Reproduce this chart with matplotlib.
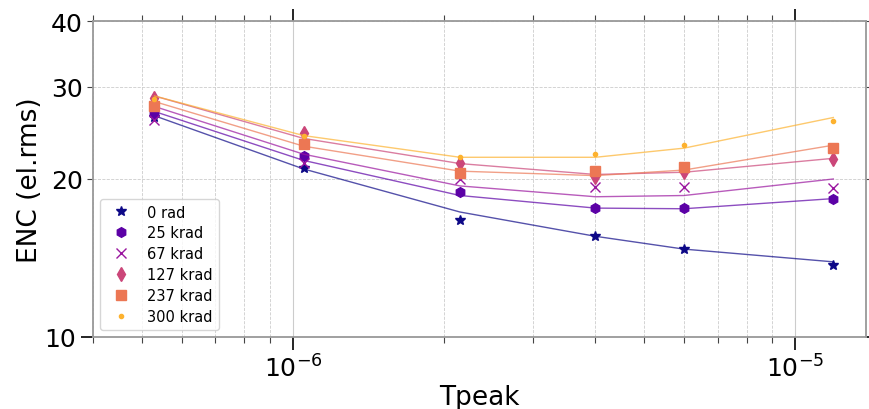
import numpy as np
import matplotlib
matplotlib.use("Agg")
import matplotlib.pyplot as plt
from matplotlib.ticker import ScalarFormatter, FuncFormatter, NullFormatter

# peaking times (s)
tpeak = [5.3e-7, 1.05e-6, 2.15e-6, 4.0e-6, 6.0e-6, 1.19e-5]

doses = ["0 rad", "25 krad", "67 krad", "127 krad", "237 krad", "300 krad"]
markers = ["*", "h", "x", "d", "s", "."]

# measured ENC (el.rms)
enc_0 = [26.2, 21.0, 16.7, 15.6, 14.7, 13.7]
enc_25 = [26.6, 22.1, 18.85, 17.6, 17.6, 18.3]
enc_67 = [25.9, 21.5, 20.0, 19.3, 19.3, 19.2]
enc_127 = [28.6, 24.5, 21.5, 20.15, 20.6, 21.8]
enc_237 = [27.5, 23.3, 20.5, 20.7, 21.1, 22.9]
enc_300 = [28.4, 24.2, 22.0, 22.3, 23.2, 25.8]

# fitted ENC (el.rms)
fit_0 = [26.4, 20.9, 17.3, 15.55, 14.7, 13.9]
fit_25 = [26.9, 21.7, 18.6, 17.6, 17.55, 18.35]
fit_67 = [27.5, 22.3, 19.4, 18.5, 18.6, 20.0]
fit_127 = [28.8, 23.9, 21.4, 20.4, 20.6, 21.9]
fit_237 = [28.1, 23.1, 20.7, 20.3, 20.8, 23.2]
fit_300 = [28.8, 24.2, 22.0, 22.0, 22.9, 26.2]

enc = [enc_0, enc_25, enc_67, enc_127, enc_237, enc_300]
fit = [fit_0, fit_25, fit_67, fit_127, fit_237, fit_300]

colors = plt.cm.plasma(np.linspace(0, 0.83, 6))
sizes = [7, 7, 7, 7, 7, 6]

fig = plt.figure(figsize=(8.7, 4.1), dpi=100)
ax = fig.add_axes([0.107, 0.176, 0.888, 0.770])

for i in range(6):
    ax.plot(tpeak, fit[i], color=colors[i], lw=1, alpha=0.7)
    ax.plot(tpeak, enc[i], ls="none", marker=markers[i], color=colors[i],
            ms=sizes[i], label=doses[i])

ax.set_xscale("log")
ax.set_yscale("log")
ax.set_xlim(4.0e-7, 1.38e-5)
ax.set_ylim(10, 40)

ax.yaxis.set_major_formatter(ScalarFormatter())
ax.yaxis.set_minor_formatter(FuncFormatter(lambda v, p: "%g" % v if round(v) in (20, 30, 40) else ""))
ax.xaxis.set_minor_formatter(NullFormatter())

ax.grid(which="major", ls="-", color="#cccccc", lw=0.8)
ax.grid(which="minor", ls="--", color="#cccccc", lw=0.6)
ax.set_axisbelow(True)

ax.tick_params(which="both", direction="out", top=True, right=True, labelsize=18)
ax.tick_params(which="major", length=9, width=1.2)
ax.tick_params(which="minor", length=4, width=0.8, color="#444444")
for s in ax.spines.values():
    s.set_color("#999999")
    s.set_linewidth(1.3)

ax.set_xlabel("Tpeak", fontsize=19, labelpad=2)
ax.set_ylabel("ENC (el.rms)", fontsize=19, labelpad=1)

ax.legend(loc="lower left", fontsize=10.5, labelspacing=0.4)

fig.savefig("out.png", dpi=100)
